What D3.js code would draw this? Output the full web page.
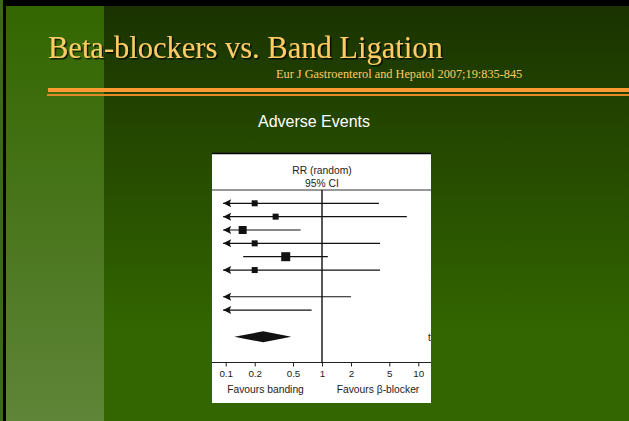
<!DOCTYPE html>
<html>
<head>
<meta charset="utf-8">
<script src="https://cdn.jsdelivr.net/npm/d3@7"></script>
<style>
  body { margin: 0; background: #000; }
  svg { display: block; }
</style>
</head>
<body>
<div id="chart"></div>
<script>
// Forest plot data (RR, random effects)
const rowIndex = [0, 1, 2, 3, 4, 5, 7, 8];
const rrPoint = [0.2, 0.33, 0.15, 0.2, 0.42, 0.2, null, null];
const rrLow = [0.05, 0.05, 0.05, 0.05, 0.152, 0.05, 0.05, 0.05];
const rrHigh = [3.9, 7.6, 0.6, 4.0, 1.15, 4.0, 2.0, 0.78];
const boxSize = [6, 6, 8, 6, 9, 6, 0, 0];
const pooled = { row: 10, rr: 0.245, low: 0.123, high: 0.48 };
const tickValues = [0.1, 0.2, 0.5, 1, 2, 5, 10];
const tickLabels = ['0.1', '0.2', '0.5', '1', '2', '5', '10'];

const W = 629, H = 421;
const panel = { x: 212, y: 153, w: 219, h: 250 };
const sans = '"Liberation Sans", Arial, sans-serif';

const svg = d3.select('#chart').append('svg')
  .attr('width', W).attr('height', H);

const defs = svg.append('defs');
const gMain = defs.append('linearGradient').attr('id', 'gMain')
  .attr('x1', 0).attr('y1', 0).attr('x2', 0).attr('y2', 1);
gMain.append('stop').attr('offset', '0%').attr('stop-color', '#1a3300');
gMain.append('stop').attr('offset', '80%').attr('stop-color', '#336600');
gMain.append('stop').attr('offset', '100%').attr('stop-color', '#336600');
const gLeft = defs.append('linearGradient').attr('id', 'gLeft')
  .attr('x1', 0).attr('y1', 0).attr('x2', 0).attr('y2', 1);
gLeft.append('stop').attr('offset', '0%').attr('stop-color', '#336600');
gLeft.append('stop').attr('offset', '100%').attr('stop-color', '#5f8538');
defs.append('clipPath').attr('id', 'panelClip')
  .append('rect').attr('x', panel.x).attr('y', panel.y).attr('width', panel.w).attr('height', panel.h);
const shadow = defs.append('filter').attr('id', 'shadow');
shadow.append('feDropShadow').attr('dx', 1.5).attr('dy', 1.5).attr('stdDeviation', 0.4)
  .attr('flood-color', '#000').attr('flood-opacity', 0.8);

// background
svg.append('rect').attr('width', W).attr('height', H).attr('fill', '#000');
svg.append('rect').attr('x', 0).attr('y', 0).attr('width', 3).attr('height', H).attr('fill', '#3d6a1a');
svg.append('rect').attr('x', 6).attr('y', 6).attr('width', 98).attr('height', H - 6).attr('fill', 'url(#gLeft)');
svg.append('rect').attr('x', 104).attr('y', 6).attr('width', W - 104).attr('height', H - 6).attr('fill', 'url(#gMain)');

// title
svg.append('text').attr('x', 48).attr('y', 58)
  .attr('font-family', '"Liberation Serif", "Times New Roman", serif')
  .attr('font-size', 30.5).attr('fill', '#ffcc66').attr('filter', 'url(#shadow)')
  .text('Beta-blockers vs. Band Ligation');
svg.append('text').attr('x', 276).attr('y', 78)
  .attr('font-family', '"Liberation Serif", "Times New Roman", serif')
  .attr('font-size', 12.3).attr('fill', '#ffcc66')
  .text('Eur J Gastroenterol and Hepatol 2007;19:835-845');
svg.append('rect').attr('x', 48).attr('y', 88).attr('width', W - 48).attr('height', 4).attr('fill', '#ff9933');
svg.append('rect').attr('x', 47).attr('y', 94).attr('width', W - 47).attr('height', 2).attr('fill', '#e08a2a');

svg.append('text').attr('x', 314).attr('y', 127).attr('text-anchor', 'middle')
  .attr('font-family', sans)
  .attr('font-size', 16).attr('fill', '#fff')
  .text('Adverse Events');

// forest plot panel
svg.append('rect').attr('x', panel.x).attr('y', panel.y).attr('width', panel.w).attr('height', panel.h)
  .attr('fill', '#fff');
svg.append('line').attr('x1', panel.x).attr('x2', panel.x + panel.w).attr('y1', panel.y + 0.5).attr('y2', panel.y + 0.5)
  .attr('stroke', '#000').attr('stroke-width', 1.5);
svg.append('line').attr('x1', panel.x).attr('x2', panel.x + panel.w).attr('y1', 190).attr('y2', 190)
  .attr('stroke', '#333').attr('stroke-width', 1.2);

const plot = svg.append('g').attr('clip-path', 'url(#panelClip)');

plot.append('text').attr('x', 322).attr('y', 174).attr('text-anchor', 'middle')
  .attr('font-family', sans).attr('font-size', 10.3).attr('fill', '#222')
  .text('RR (random)');
plot.append('text').attr('x', 322).attr('y', 187).attr('text-anchor', 'middle')
  .attr('font-family', sans).attr('font-size', 10.3).attr('fill', '#222')
  .text('95% CI');

const x = d3.scaleLog().domain([0.1, 10]).range([225.7, 418.3]);
const y = d3.scaleLinear().domain([0, 10]).range([203.3, 336.8]);
const minShown = 0.094; // arrow tip when CI runs off the left

// axis
const axisY = 362.5;
const axis = d3.axisBottom(x).tickValues(tickValues)
  .tickFormat((d, i) => tickLabels[i]).tickSizeInner(4).tickSizeOuter(0).tickPadding(4);
const ax = plot.append('g').attr('transform', `translate(0, ${axisY})`).call(axis);
ax.select('.domain').remove();
ax.selectAll('line').attr('stroke', '#222');
ax.selectAll('text').attr('font-family', sans)
  .attr('font-size', 9.8).attr('fill', '#222');
plot.append('line').attr('x1', panel.x).attr('x2', panel.x + panel.w).attr('y1', axisY).attr('y2', axisY)
  .attr('stroke', '#222').attr('stroke-width', 1.2);

// line of no effect
plot.append('line').attr('x1', x(1)).attr('x2', x(1)).attr('y1', 190).attr('y2', axisY)
  .attr('stroke', '#111').attr('stroke-width', 1.4);

// CI lines
const rows = rowIndex.map((r, i) => ({
  r, rr: rrPoint[i], low: rrLow[i], high: rrHigh[i], size: boxSize[i]
}));
plot.selectAll('.ci').data(rows).join('line')
  .attr('class', 'ci')
  .attr('x1', d => x(Math.max(d.low, minShown)))
  .attr('x2', d => x(d.high))
  .attr('y1', d => y(d.r)).attr('y2', d => y(d.r))
  .attr('stroke', '#111').attr('stroke-width', 1.2);

plot.selectAll('.arrow').data(rows.filter(d => d.low < minShown)).join('path')
  .attr('class', 'arrow')
  .attr('d', d => {
    const tx = x(minShown), ty = y(d.r);
    return `M${tx},${ty} L${tx + 8},${ty - 4} L${tx + 6.5},${ty} L${tx + 8},${ty + 4} Z`;
  })
  .attr('fill', '#111');

plot.selectAll('.box').data(rows.filter(d => d.rr !== null)).join('rect')
  .attr('class', 'box')
  .attr('x', d => x(d.rr) - d.size / 2)
  .attr('y', d => y(d.r) - d.size / 2)
  .attr('width', d => d.size).attr('height', d => d.size)
  .attr('fill', '#111');

// pooled diamond
const py = y(pooled.row);
plot.append('path')
  .attr('d', `M${x(pooled.low)},${py} L${x(pooled.rr)},${py - 5.5} L${x(pooled.high)},${py} L${x(pooled.rr)},${py + 5.5} Z`)
  .attr('fill', '#111');

// cut-off label at the right edge
plot.append('text').attr('x', 428).attr('y', py + 4)
  .attr('font-family', sans).attr('font-size', 10).attr('fill', '#222')
  .text('test');

// footer labels
plot.append('text').attr('x', 265.5).attr('y', 393).attr('text-anchor', 'middle')
  .attr('font-family', sans).attr('font-size', 10.3).attr('fill', '#222')
  .text('Favours banding');
plot.append('text').attr('x', 378).attr('y', 393).attr('text-anchor', 'middle')
  .attr('font-family', sans).attr('font-size', 10.3).attr('fill', '#222')
  .text('Favours β-blocker');
</script>
</body>
</html>
